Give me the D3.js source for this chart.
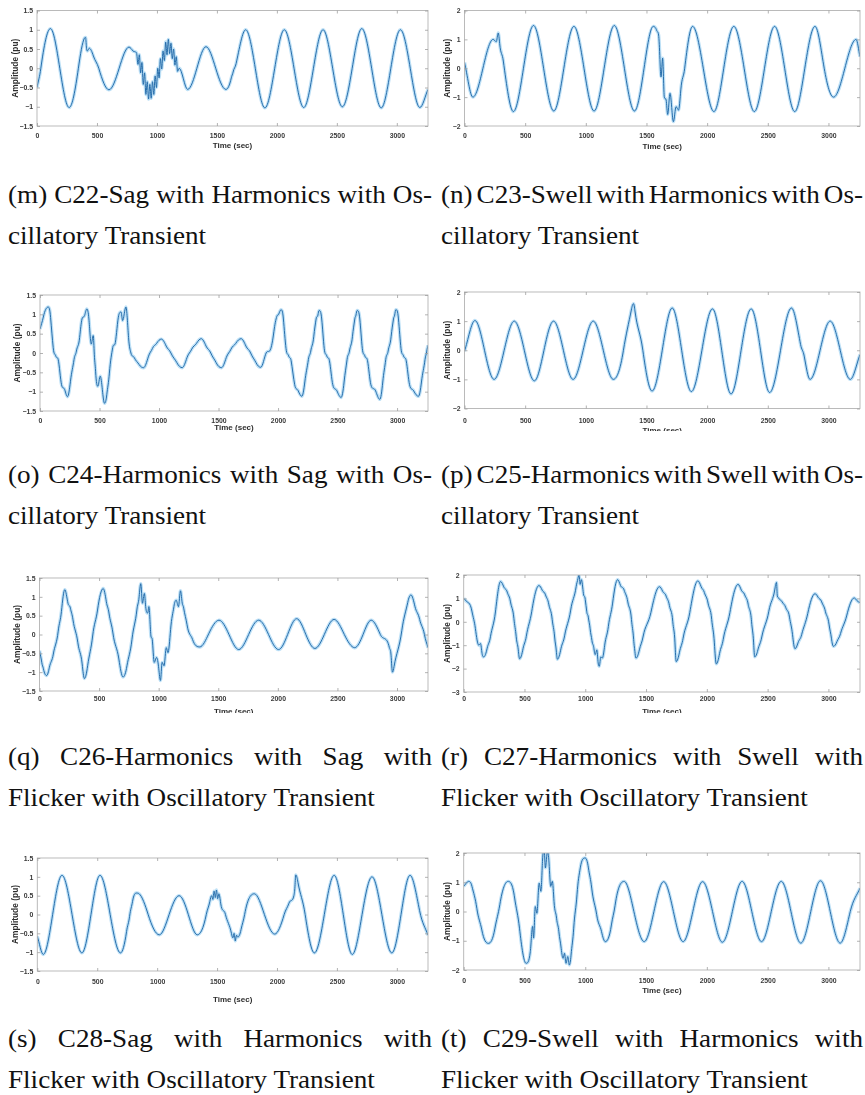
<!DOCTYPE html>
<html>
<head>
<meta charset="utf-8">
<script src="https://cdn.jsdelivr.net/npm/d3@7"></script>
<style>
  html, body { margin: 0; padding: 0; background: #fff; }
  svg { display: block; }
</style>
</head>
<body>
<svg id="fig" width="865" height="1095"></svg>
<script>
// Disturbance waveforms: [time (sec), amplitude (pu)] samples of each trace.
const c22Samples = [[0,-0.5],[32,0],[112,1.03],[190,0],[268,-1.02],[345,0],[395,0.78],[405,0.8],[412,0.55],[420,0.45],[435,0.52],[470,0.32],[515,0],[600,-0.56],[685,0],[767,0.55],[800,0.45],
  [830,0.4],[842,0.1],[853,0.35],[864,-0.12],[875,0.15],[886,-0.42],[897,-0.12],[908,-0.68],[919,-0.35],[930,-0.8],[941,-0.42],[952,-0.78],[963,-0.35],[974,-0.68],[985,-0.2],[996,-0.5],[1007,0.0],[1018,-0.25],[1029,0.25],[1040,-0.02],[1051,0.45],[1062,0.2],[1073,0.68],[1084,0.35],[1095,0.75],[1106,0.38],[1117,0.65],[1128,0.25],[1139,0.5],[1150,0.08],[1161,0.3],[1172,-0.08],[1185,0.0],
  [1256,-0.55],[1333,0],[1409,0.56],[1490,0],[1575,-0.55],[1620,-0.25],[1635,-0.1],[1660,0.12],[1740,1.0],[1820,0],[1900,-1.03],[1982,0],[2062,1.0],[2143,0],[2224,-1.02],[2305,0],[2385,1.0],[2465,0],[2546,-1.0],[2628,0],[2708,1.03],[2790,0],[2870,-1.03],[2950,0],[3030,1.0],[3112,0],[3192,-1.02],[3260,-0.55]];

const c23Samples = [[0,0.2],[69,-1.0],[152,0],[236,1.0],[262,0.92],[278,1.22],[290,0.85],[320,0.25],[403,-1.5],[486,0],[569,1.48],[652,0],[736,-1.48],[819,0],[902,1.45],[985,0],[1068,-1.48],[1151,0],[1235,1.48],[1318,0],[1401,-1.48],[1480,0],[1556,1.45],[1585,1.3],[1600,1.15],[1611,0.3],[1620,-0.3],[1633,0.35],[1647,-1.0],[1662,-1.1],[1675,-1.6],[1694,-0.87],[1722,-1.85],[1744,-1.33],[1764,-1.45],[1783,-0.75],[1815,0],[1880,1.45],[1968,0],[2056,-1.5],[2137,0],[2220,1.45],[2305,0],[2389,-1.5],[2473,0],[2556,1.45],[2639,0],[2722,-1.5],[2805,0],[2889,1.45],[2965,0],[3042,-1.0],[3135,0],[3228,1.0],[3260,0.4]];

const c24Samples = [[0,0.62],[28,0.93],[69,1.19],[89,0.92],[111,0.14],[133,-0.08],[153,-0.17],[181,-0.82],[208,-0.95],[231,-1.13],[256,-0.73],[286,-0.17],[306,0.05],[333,0.4],[353,0.88],[375,0.97],[394,1.14],[411,0.88],[431,0.23],[447,0.45],[455,0.05],[467,-0.47],[486,-0.86],[506,-0.6],[542,-1.3],[561,-1.08],[583,-0.52],[611,0.14],[633,0.27],[661,0.97],[681,1.06],[694,0.84],[722,1.19],[744,0.4],[764,0.0],[792,-0.12],[833,-0.3],[870,-0.38],
  [910,-0.1],[945,0.12],[980,0.25],[1020,0.36],[1060,0.18],[1100,0.0],[1150,-0.25],[1195,-0.38],[1235,-0.12],[1275,0.1],[1315,0.25],[1355,0.37],[1395,0.18],[1435,0.0],[1480,-0.25],[1525,-0.38],[1565,-0.12],[1605,0.1],[1645,0.25],[1690,0.37],[1730,0.18],[1770,0.0],[1815,-0.25],[1855,-0.37],
  [1900,0.0],[1935,0.08],[1965,0.55],[1990,0.95],[2005,1.0],[2025,1.12],
  [2045,0.88],[2067,0.12],[2090,-0.08],[2110,-0.2],[2140,-0.82],[2170,-0.98],[2200,-1.12],[2225,-0.75],[2255,-0.17],[2275,0.05],[2300,0.42],[2320,0.88],[2335,0.98],[2345,1.1],
  [2367,0.88],[2388,0.12],[2410,-0.08],[2432,-0.2],[2460,-0.82],[2495,-0.98],[2530,-1.15],[2555,-0.75],[2580,-0.17],[2600,0.05],[2625,0.42],[2645,0.88],[2655,0.98],[2665,1.1],
  [2687,0.88],[2708,0.12],[2730,-0.08],[2752,-0.2],[2780,-0.82],[2820,-0.98],[2855,-1.2],[2880,-0.75],[2905,-0.17],[2925,0.05],[2950,0.42],[2970,0.88],[2980,0.98],[2990,1.12],
  [3012,0.88],[3033,0.12],[3055,-0.08],[3077,-0.2],[3105,-0.82],[3140,-0.98],[3180,-1.12],[3205,-0.75],[3235,-0.17],[3250,0.05],[3260,0.2]];

const c25Samples = [[0,-0.03],[86,1.02],[165,0],[244,-1.0],[327,0],[410,1.0],[493,0],[576,-1.05],[655,0],[734,1.0],[815,0],[895,-1.0],[978,0],[1061,1.0],[1144,0],[1227,-1.0],[1310,0.0],[1375,1.38],[1393,1.6],[1405,1.35],[1470,0],[1546,-1.4],[1630,0],[1712,1.45],[1790,0],[1870,-1.42],[1957,0],[2044,1.42],[2120,0],[2197,-1.5],[2280,0],[2363,1.42],[2440,0],[2515,-1.45],[2605,0],[2695,1.45],[2770,0.2],[2800,-0.2],[2848,-1.0],[2931,0],[3014,1.0],[3097,0],[3180,-1.0],[3260,-0.15]];

const c26Samples = [[0,-0.43],[19,-0.74],[33,-0.91],[60,-1.09],[83,-0.87],[116,-0.52],[157,0.09],[184,0.61],[212,1.19],[239,0.83],[259,0.7],[281,0.39],[322,-0.22],[358,-0.78],[377,-1.17],[404,-0.83],[446,-0.04],[487,0.65],[534,1.22],[561,0.87],[583,0.57],[616,0.04],[666,-0.65],[701,-1.13],[734,-0.83],[776,-0.13],[817,0.65],[836,1.0],[850,1.35],[864,0.83],[880,1.09],[891,0.74],[908,0.57],[918,0.74],[935,-0.04],[946,-0.13],[963,-0.74],[982,-0.61],[1001,-0.91],[1015,-1.22],[1029,-0.74],[1045,-0.83],[1064,-0.35],[1078,-0.48],[1100,0.13],[1128,0.74],[1147,0.91],[1166,0.74],[1183,1.16],[1196,0.87],[1210,0.7],[1238,0.26],[1284,-0.13],[1345,-0.33],
  [1420,0.02],[1506,0.38],[1590,0],[1672,-0.4],[1755,0],[1839,0.38],[1922,0],[2006,-0.4],[2082,0],[2158,0.42],[2235,0],[2311,-0.37],[2390,0],[2472,0.4],[2558,0],[2645,-0.35],[2715,0],[2783,0.38],[2860,0],[2936,-0.35],[2950,-0.55],[2962,-1.0],[2975,-0.85],[3040,0.1],[3090,0.85],[3117,1.05],[3150,0.75],[3190,0.4],[3230,0.0],[3260,-0.35]];

const c27Samples = [[0,1.0],[14,0.93],[69,0.42],[96,-0.28],[124,-1.0],[138,-0.93],[151,-1.35],[165,-1.5],[193,-1.13],[220,-0.64],[261,0.42],[303,1.72],
  [330,1.49],[358,1.27],[385,0.85],[413,0.14],[432,-0.64],[449,-1.2],[460,-1.58],[488,-1.15],[515,-0.62],[560,0.45],[619,1.55],
  [646,1.35],[673,1.15],[700,0.75],[728,0.1],[748,-0.65],[762,-1.25],[771,-1.6],[800,-1.15],[830,-0.6],[880,0.5],[925,1.5],[940,1.85],[949,2.0],[958,1.6],[968,1.8],[985,1.2],[1000,0.95],[1012,0.45],[1025,0.2],[1040,-0.3],[1055,-0.8],[1070,-1.1],[1082,-1.4],[1095,-1.2],[1105,-1.7],[1115,-1.9],[1128,-1.5],[1140,-1.55],[1160,-1.0],[1190,-0.2],[1225,0.8],[1266,1.8],
  [1290,1.55],[1320,1.35],[1350,0.85],[1380,0.1],[1398,-0.75],[1410,-1.35],[1417,-1.55],[1445,-1.2],[1475,-0.65],[1540,0.4],[1610,1.5],
  [1637,1.3],[1665,1.1],[1692,0.7],[1720,0.0],[1738,-0.9],[1748,-1.7],[1775,-1.3],[1805,-0.7],[1860,0.4],[1926,1.75],
  [1953,1.5],[1980,1.25],[2010,0.8],[2040,0.1],[2062,-0.9],[2078,-1.8],[2105,-1.35],[2135,-0.75],[2190,0.4],[2257,1.6],
  [2284,1.35],[2312,1.15],[2340,0.75],[2368,0.0],[2385,-0.9],[2394,-1.5],[2420,-1.2],[2452,-0.65],[2510,0.45],[2560,1.4],[2573,1.68],[2580,1.1],[2590,1.02],
  [2620,0.85],[2650,0.6],[2680,0.2],[2705,-0.55],[2725,-1.15],[2750,-0.9],[2780,-0.55],[2830,0.35],[2890,1.2],
  [2915,1.05],[2945,0.85],[2975,0.45],[3005,-0.1],[3025,-0.7],[3041,-1.05],[3070,-0.85],[3100,-0.5],[3150,0.25],[3212,1.02],[3236,0.9],[3260,0.82]];

const c28Samples = [[0,-0.58],[50,-1.06],[128,0],[206,1.04],[290,0],[372,-1.02],[448,0],[523,1.04],[608,0],[694,-1.02],[745,-0.45],[770,-0.05],[795,0.35],[826,0.57],[850,0.55],[925,0],[1018,-0.54],[1100,0],[1183,0.5],[1260,0],[1335,-0.54],[1410,0],[1440,0.35],[1455,0.5],[1465,0.4],[1475,0.62],[1485,0.45],[1495,0.65],[1505,0.42],[1515,0.55],[1530,0.3],[1570,0],[1620,-0.5],[1632,-0.62],[1642,-0.5],[1652,-0.7],[1662,-0.55],[1672,-0.6],[1700,-0.4],[1730,0],[1811,0.55],[1895,0],[1981,-0.52],[2060,0],[2100,0.3],[2141,0.5],[2150,0.75],[2157,1.05],[2175,0.85],[2235,0],[2312,-1.02],[2395,0],[2477,1.04],[2553,0],[2628,-1.06],[2710,0],[2793,1.0],[2875,0],[2958,-1.02],[3035,0],[3110,1.04],[3190,0.1],[3260,-0.55]];

const c29Samples = [[0,0.86],[40,1.03],[68,0.86],[108,0.11],[149,-0.63],[203,-1.09],[257,-0.57],[297,0.23],[365,1.03],[419,0.46],[459,-0.57],[513,-1.77],[548,-1.37],[567,-0.51],[575,-0.91],[589,0.17],[602,-0.06],[621,0.97],[635,0.69],[648,1.71],[662,2.1],[672,1.49],[689,2.05],[702,1.66],[716,0.86],[729,1.03],[743,0.34],[764,-0.23],[783,-0.69],[802,-1.26],[818,-1.6],[829,-1.43],[842,-1.77],[856,-1.54],[869,-1.83],[883,-1.49],[905,-0.57],[932,0.57],[959,1.49],[999,1.83],[1026,1.49],[1053,0.8],[1094,-0.11],[1134,-0.69],[1165,-1.03],[1215,-0.46],[1245,0.2],[1320,1.03],[1400,0],[1485,-1.03],[1565,0],[1645,1.02],[1725,0],[1805,-1.03],[1885,0],[1965,1.02],[2047,0],[2128,-1.05],[2210,0],[2290,1.03],[2370,0],[2450,-1.03],[2530,0],[2612,1.03],[2692,0],[2773,-1.08],[2855,0],[2935,1.05],[3015,0],[3097,-1.08],[3180,0],[3260,0.8]];

// Axis ticks
const timeTicks = [0, 500, 1000, 1500, 2000, 2500, 3000];
const timeMax = 3260;
const ampTicksHalf = [-1.5, -1, -0.5, 0, 0.5, 1, 1.5];
const ampTicksTwo = [-2, -1, 0, 1, 2];
const ampTicksThree = [-3, -2, -1, 0, 1, 2];

// Sub-figure captions (first line justified, second line ragged)
const captionFirst = [
  "(m) C22-Sag with Harmonics with Os-",
  "(n) C23-Swell with Harmonics with Os-",
  "(o) C24-Harmonics with Sag with Os-",
  "(p) C25-Harmonics with Swell with Os-",
  "(q) C26-Harmonics with Sag with",
  "(r) C27-Harmonics with Swell with",
  "(s) C28-Sag with Harmonics with",
  "(t) C29-Swell with Harmonics with"
];
const captionSecond = [
  "cillatory Transient", "cillatory Transient",
  "cillatory Transient", "cillatory Transient",
  "Flicker with Oscillatory Transient", "Flicker with Oscillatory Transient",
  "Flicker with Oscillatory Transient", "Flicker with Oscillatory Transient"
];

// ---- layout of the eight axes ----
const panels = [
  { data: c22Samples, ticks: ampTicksHalf,  L: 37,    T: 10.5, R: 428, B: 126,   tickY: 135.5, xLabY: 145.5, yLabX: 15 },
  { data: c23Samples, ticks: ampTicksTwo,   L: 464.5, T: 10.5, R: 860, B: 126,   tickY: 135.5, xLabY: 146,   yLabX: 447.5 },
  { data: c24Samples, ticks: ampTicksHalf,  L: 40,    T: 295,  R: 428, B: 411,   tickY: 421,   xLabY: 427.5, yLabX: 17 },
  { data: c25Samples, ticks: ampTicksTwo,   L: 464.5, T: 292,  R: 860, B: 408.5, tickY: 421,   xLabY: 430,   yLabX: 447.5, clipY: 431 },
  { data: c26Samples, ticks: ampTicksHalf,  L: 39.5,  T: 578,  R: 428, B: 691,   tickY: 698.5, xLabY: 711.5, yLabX: 17,    clipY: 713 },
  { data: c27Samples, ticks: ampTicksThree, L: 463.7, T: 575,  R: 860, B: 692,   tickY: 698.5, xLabY: 711.5, yLabX: 447,   clipY: 713 },
  { data: c28Samples, ticks: ampTicksHalf,  L: 37.3,  T: 858,  R: 428, B: 971,   tickY: 981.5, xLabY: 999,   yLabX: 15 },
  { data: c29Samples, ticks: ampTicksTwo,   L: 463.7, T: 853,  R: 860, B: 970,   tickY: 981,   xLabY: 990.5, yLabX: 447 }
];

// Smooth Hermite curve: flat at local extrema, slightly steeper than
// monotoneX through crossings so quarter-cycle samples read as sinusoids.
function SmoothWave(context) { this._context = context; }
SmoothWave.prototype = {
  areaStart() {}, areaEnd() {},
  lineStart() { this._pts = []; },
  point(x, y) { this._pts.push([+x, +y]); },
  lineEnd() {
    const p = this._pts, n = p.length, c = this._context;
    if (!n) return;
    c.moveTo(p[0][0], p[0][1]);
    if (n === 1) return;
    const sec = [];
    for (let i = 0; i < n - 1; i++) sec.push((p[i + 1][1] - p[i][1]) / (p[i + 1][0] - p[i][0]));
    const m = new Array(n);
    m[0] = sec[0];
    m[n - 1] = sec[n - 2];
    for (let i = 1; i < n - 1; i++) {
      const s0 = sec[i - 1], s1 = sec[i];
      if (s0 * s1 <= 0) { m[i] = 0; continue; }
      const h0 = p[i][0] - p[i - 1][0], h1 = p[i + 1][0] - p[i][0];
      const avg = (s0 * h1 + s1 * h0) / (h0 + h1);
      m[i] = Math.sign(s0) * Math.min(1.5 * Math.abs(avg), 3 * Math.abs(s0), 3 * Math.abs(s1));
    }
    for (let i = 0; i < n - 1; i++) {
      const [x0, y0] = p[i], [x1, y1] = p[i + 1], h = (x1 - x0) / 3;
      c.bezierCurveTo(x0 + h, y0 + m[i] * h, x1 - h, y1 - m[i + 1] * h, x1, y1);
    }
  }
};
const curveSmoothWave = context => new SmoothWave(context);

const svg = d3.select("#fig");
const defs = svg.append("defs");
defs.append("filter").attr("id", "soft")
  .attr("x", "-5%").attr("y", "-5%").attr("width", "110%").attr("height", "110%")
  .append("feGaussianBlur").attr("stdDeviation", 0.45);

const sansFont = "'Liberation Sans', Arial, Helvetica, sans-serif";

panels.forEach((p, i) => {
  const x = d3.scaleLinear().domain([0, timeMax]).range([p.L, p.R]);
  const y = d3.scaleLinear().domain(d3.extent(p.ticks)).range([p.B, p.T]);

  const outer = svg.append("g");
  if (p.clipY) {
    defs.append("clipPath").attr("id", "crop" + i)
      .append("rect").attr("x", p.L - 40).attr("y", p.T - 20)
      .attr("width", p.R - p.L + 60).attr("height", p.clipY - (p.T - 20));
    outer.attr("clip-path", `url(#crop${i})`);
  }
  const g = outer.append("g").attr("filter", "url(#soft)");

  // plot-area clip so spikes stop at the frame
  defs.append("clipPath").attr("id", "plot" + i)
    .append("rect").attr("x", p.L).attr("y", p.T).attr("width", p.R - p.L).attr("height", p.B - p.T);

  const line = d3.line()
    .x(d => x(d[0]))
    .y(d => y(d[1]))
    .curve(curveSmoothWave);

  const plot = g.append("g").attr("clip-path", `url(#plot${i})`);
  plot.append("path").datum(p.data).attr("d", line)
    .attr("fill", "none").attr("stroke", "#7cc2ee").attr("stroke-opacity", 0.5)
    .attr("stroke-width", 3.4).attr("stroke-linejoin", "round");
  plot.append("path").datum(p.data).attr("d", line)
    .attr("fill", "none").attr("stroke", "#2168a8")
    .attr("stroke-width", 0.95).attr("stroke-linejoin", "round");

  // frame
  g.append("rect").attr("x", p.L).attr("y", p.T).attr("width", p.R - p.L).attr("height", p.B - p.T)
    .attr("fill", "none").attr("stroke", "#b3b3b3").attr("stroke-width", 0.9);

  // inward ticks on all four sides
  const styleAxis = sel => {
    sel.select(".domain").remove();
    sel.selectAll(".tick line").attr("stroke", "#a0a0a0").attr("stroke-width", 0.8);
    sel.selectAll("text").attr("font-family", sansFont).attr("font-size", 6.9)
      .attr("font-weight", "bold").attr("fill", "#3a3a3a");
  };
  const bottom = g.append("g").attr("transform", `translate(0,${p.B})`)
    .call(d3.axisBottom(x).tickValues(timeTicks).tickSize(-3).tickFormat(d3.format("d")))
    .call(styleAxis);
  bottom.selectAll("text").attr("y", p.tickY - p.B).attr("dy", "0.35em");

  g.append("g").attr("transform", `translate(0,${p.T})`)
    .call(d3.axisTop(x).tickValues(timeTicks).tickSize(-3).tickFormat(""))
    .call(styleAxis);

  g.append("g").attr("transform", `translate(${p.L},0)`)
    .call(d3.axisLeft(y).tickValues(p.ticks).tickSize(-3).tickPadding(4).tickFormat(d3.format("")))
    .call(styleAxis);

  g.append("g").attr("transform", `translate(${p.R},0)`)
    .call(d3.axisRight(y).tickValues(p.ticks).tickSize(-3).tickFormat(""))
    .call(styleAxis);

  // axis titles
  g.append("text").attr("x", (p.L + p.R) / 2).attr("y", p.xLabY).attr("dy", "0.35em")
    .attr("text-anchor", "middle").attr("font-family", sansFont).attr("font-size", 8)
    .attr("font-weight", "bold").attr("fill", "#2e2e2e").text("Time (sec)");
  g.append("text")
    .attr("transform", `translate(${p.yLabX},${(p.T + p.B) / 2}) rotate(-90)`)
    .attr("dy", "0.35em").attr("text-anchor", "middle")
    .attr("font-family", sansFont).attr("font-size", 8.4)
    .attr("font-weight", "bold").attr("fill", "#2e2e2e").text("Amplitude (pu)");
});

// ---- captions ----
const capG = svg.append("g")
  .attr("font-family", "'Liberation Serif', 'Times New Roman', serif")
  .attr("font-size", 25).attr("fill", "#111");

function textWidth(str) {
  const t = capG.append("text").text(str);
  const w = t.node().getComputedTextLength();
  t.remove();
  return w;
}
const stretch = 367 / textWidth("Flicker with Oscillatory Transient");
const colLeft = [8, 441];
const colRight = [432, 863];
const rowBase = [203, 483, 765, 1047];
const lineGap = 41;

captionFirst.forEach((str, i) => {
  const col = i % 2, row = Math.floor(i / 2);
  const x0 = colLeft[col];
  const span = (colRight[col] - x0) / stretch;

  // justified first line
  const words = str.split(" ");
  const widths = words.map(textWidth);
  const gap = (span - d3.sum(widths)) / (words.length - 1);
  const g1 = capG.append("g").attr("transform", `translate(${x0},${rowBase[row]}) scale(${stretch},1)`);
  let cx = 0;
  words.forEach((w, k) => {
    g1.append("text").attr("x", cx).text(w);
    cx += widths[k] + gap;
  });

  // ragged second line
  capG.append("g").attr("transform", `translate(${x0},${rowBase[row] + lineGap}) scale(${stretch},1)`)
    .append("text").text(captionSecond[i]);
});
</script>
</body>
</html>
